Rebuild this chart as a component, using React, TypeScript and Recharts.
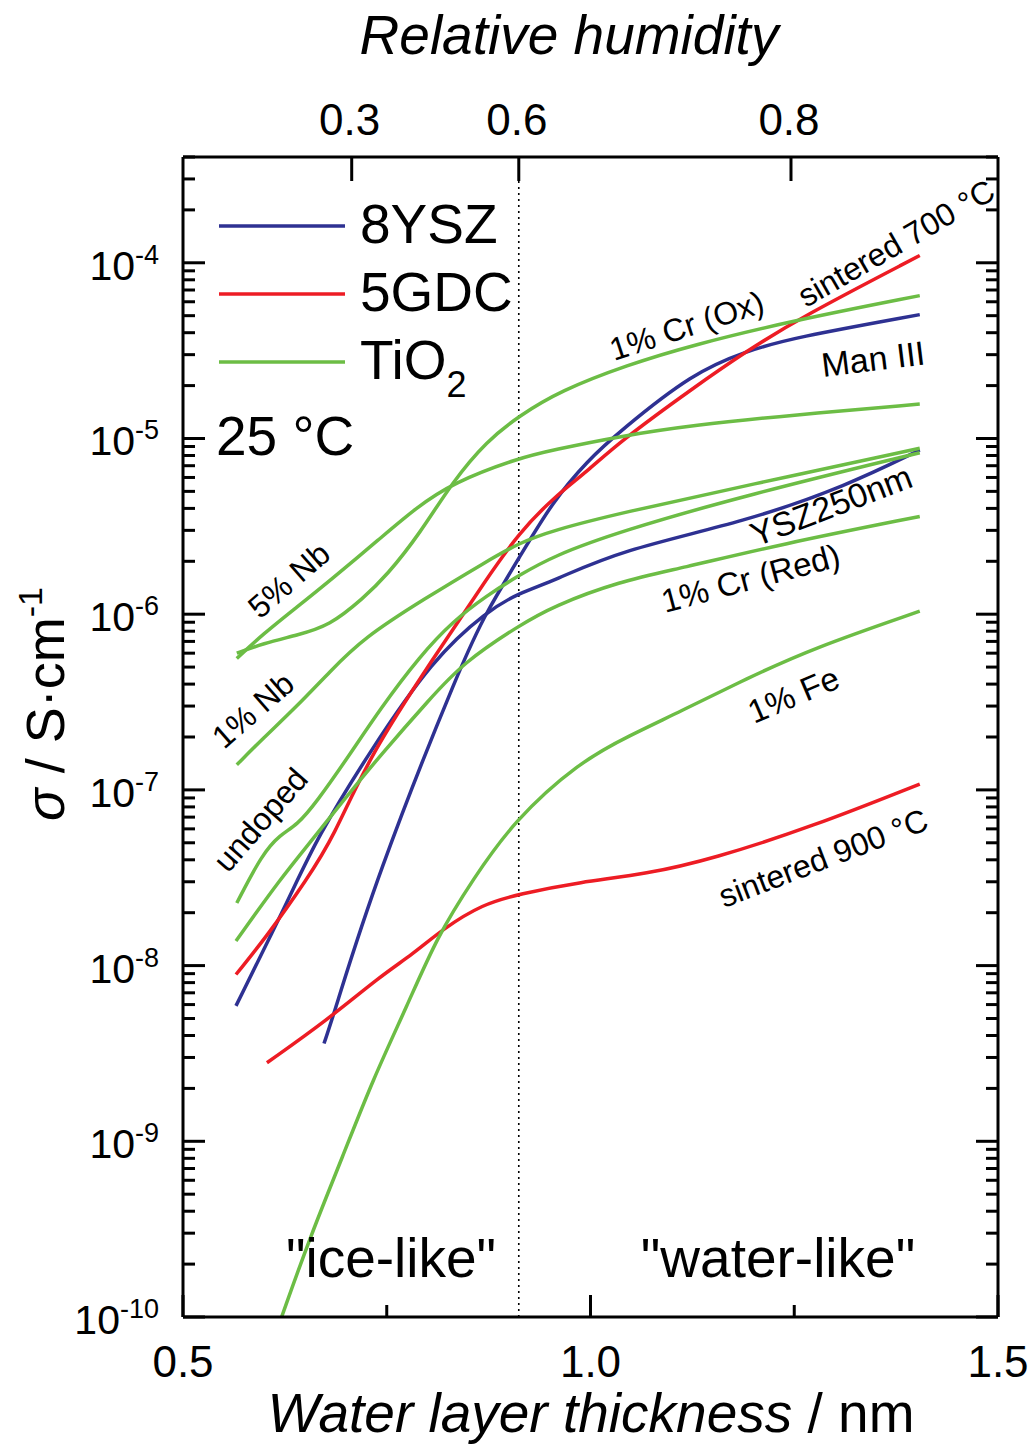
import React from "react";
import { LineChart, Line, XAxis, YAxis, ReferenceLine, Legend } from "recharts";

const BLUE = "#2e3192";
const RED = "#ed1c24";
const GREEN = "#6cbd45";
const FONT = "'Liberation Sans', Arial, sans-serif";

// water layer thickness (nm) vs conductivity (S/cm)
const ysz250: [number, number][] = [
  [0.565, 5.9e-9], [0.631, 2.45e-8], [0.664, 5.3e-8], [0.729, 1.65e-7], [0.807, 5.6e-7],
  [0.873, 1.04e-6], [0.912, 1.32e-6], [0.954, 1.54e-6], [1.036, 2.31e-6], [1.192, 3.38e-6],
  [1.315, 5.4e-6], [1.404, 8.6e-6],
];
const manIII: [number, number][] = [
  [0.673, 3.6e-9], [0.684, 5.1e-9], [0.736, 3.1e-8], [0.844, 5.6e-7], [0.873, 1.04e-6],
  [0.912, 2.08e-6], [0.954, 4.4e-6], [0.996, 7.45e-6], [1.036, 1.1e-5], [1.126, 2.37e-5],
  [1.192, 3.15e-5], [1.248, 3.74e-5], [1.404, 5.07e-5],
];
const sint700: [number, number][] = [
  [0.565, 8.9e-9], [0.603, 1.47e-8], [0.652, 3.1e-8], [0.684, 5.3e-8], [0.729, 1.57e-7],
  [0.807, 5.6e-7], [0.873, 1.6e-6], [0.912, 2.89e-6], [0.954, 4.58e-6], [0.996, 6.5e-6],
  [1.036, 9.6e-6], [1.126, 1.94e-5], [1.192, 3.15e-5], [1.257, 4.86e-5], [1.404, 1.1e-4],
];
const sint900: [number, number][] = [
  [0.603, 2.8e-9], [0.677, 4.9e-9], [0.742, 8.7e-9], [0.782, 1.16e-8], [0.819, 1.62e-8],
  [0.868, 2.24e-8], [0.912, 2.55e-8], [0.987, 2.99e-8], [1.069, 3.32e-8], [1.15, 4.05e-8],
  [1.273, 6.2e-8], [1.404, 1.08e-7],
];
const crOx: [number, number][] = [
  [0.566, 6.0e-7], [0.598, 6.8e-7], [0.64, 7.6e-7], [0.68, 8.6e-7], [0.721, 1.23e-6],
  [0.75, 1.66e-6], [0.791, 2.89e-6], [0.831, 5.7e-6], [0.873, 9.7e-6], [0.912, 1.34e-5],
  [0.963, 1.87e-5], [1.045, 2.62e-5], [1.126, 3.41e-5], [1.248, 4.68e-5], [1.404, 6.5e-5],
];
const nb5: [number, number][] = [
  [0.566, 5.6e-7], [0.598, 7.7e-7], [0.64, 1.1e-6], [0.68, 1.55e-6], [0.742, 2.7e-6],
  [0.785, 4.0e-6], [0.831, 5.6e-6], [0.912, 7.75e-6], [0.954, 8.6e-6], [1.036, 1.03e-5],
  [1.126, 1.19e-5], [1.248, 1.36e-5], [1.404, 1.57e-5],
];
const nb1: [number, number][] = [
  [0.566, 1.39e-7], [0.598, 1.96e-7], [0.64, 3.0e-7], [0.68, 4.7e-7], [0.721, 7.3e-7],
  [0.797, 1.23e-6], [0.873, 2.0e-6], [0.912, 2.54e-6], [0.954, 3.0e-6], [1.036, 3.76e-6],
  [1.192, 5.4e-6], [1.404, 8.8e-6],
];
const undoped: [number, number][] = [
  [0.566, 2.27e-8], [0.597, 4.3e-8], [0.619, 5.55e-8], [0.64, 6.3e-8], [0.664, 8.55e-8],
  [0.701, 1.5e-7], [0.742, 2.9e-7], [0.791, 5.8e-7], [0.831, 9.1e-7], [0.873, 1.28e-6],
  [0.912, 1.66e-6], [0.954, 2.14e-6], [1.036, 2.96e-6], [1.192, 4.77e-6], [1.404, 8.3e-6],
];
const crRed: [number, number][] = [
  [0.565, 1.38e-8], [0.619, 3.1e-8], [0.66, 5.3e-8], [0.701, 9.2e-8], [0.742, 1.57e-7],
  [0.803, 3.3e-7], [0.844, 5.3e-7], [0.912, 8.6e-7], [0.954, 1.11e-6], [1.036, 1.54e-6],
  [1.11, 1.82e-6], [1.233, 2.5e-6], [1.404, 3.6e-6],
];
const fe1: [number, number][] = [
  [0.621, 1.0e-10], [0.656, 2.86e-10], [0.696, 8.2e-10], [0.733, 2.25e-9], [0.775, 5.9e-9],
  [0.812, 1.47e-8], [0.856, 3.1e-8], [0.905, 6.6e-8], [0.987, 1.45e-7], [1.048, 2.04e-7],
  [1.11, 2.79e-7], [1.192, 4.31e-7], [1.273, 6.4e-7], [1.404, 1.04e-6],
];

const series = [
  { key: "ysz250", pts: ysz250, color: BLUE },
  { key: "manIII", pts: manIII, color: BLUE },
  { key: "sint700", pts: sint700, color: RED },
  { key: "sint900", pts: sint900, color: RED },
  { key: "crOx", pts: crOx, color: GREEN },
  { key: "nb5", pts: nb5, color: GREEN },
  { key: "nb1", pts: nb1, color: GREEN },
  { key: "undoped", pts: undoped, color: GREEN },
  { key: "crRed", pts: crRed, color: GREEN },
  { key: "fe1", pts: fe1, color: GREEN },
];

const legendNames = ["8YSZ", "5GDC", "TiO"];
const legendColors = [BLUE, RED, GREEN];

// axes
const xTicks = [0.5, 0.75, 1.0, 1.25, 1.5];
const xTickLabels = ["0.5", "", "1.0", "", "1.5"];
const rhLabels = ["0.3", "0.6", "0.8"];
const rhThickness = [0.707, 0.912, 1.246];
const iceWaterBoundary = 0.912;
const yDomain: [number, number] = [1e-10, 4e-4];
const decades = [-10, -9, -8, -7, -6, -5];
const yTicks: number[] = [];
decades.forEach((d) => {
  for (let m = 1; m <= 9; m++) yTicks.push(m * Math.pow(10, d));
});
[1, 2, 3, 4].forEach((m) => yTicks.push(m * 1e-4));

const annotations = [
  { text: "1% Cr (Ox)", x: 614, y: 361, a: -18, s: 32 },
  { text: "sintered 700 °C", x: 806, y: 308, a: -30, s: 32 },
  { text: "Man III", x: 823, y: 377, a: -7, s: 34 },
  { text: "YSZ250nm", x: 756, y: 547, a: -21, s: 34 },
  { text: "1% Cr (Red)", x: 665, y: 613, a: -15, s: 33 },
  { text: "1% Fe", x: 754, y: 724, a: -23, s: 33 },
  { text: "sintered 900 °C", x: 724, y: 908, a: -21, s: 32 },
  { text: "5% Nb", x: 260, y: 620, a: -41, s: 32 },
  { text: "1% Nb", x: 224, y: 750, a: -41, s: 32 },
  { text: "undoped", x: 228, y: 874, a: -49, s: 32 },
];

const isMajor = (v: number) => {
  const e = Math.log10(v);
  return Math.abs(e - Math.round(e)) < 1e-6;
};

function LeftTick(props: any) {
  const { x, y, payload } = props;
  const v = payload.value;
  const major = isMajor(v);
  return (
    <g>
      <line x1={x} x2={x + (major ? 22 : 12)} y1={y} y2={y} stroke="#000" strokeWidth={3} />
      {major && (
        <text x={x - 24} y={y + 17} textAnchor="end" fontSize={41} fontFamily={FONT} fill="#000">
          10<tspan dy={-16} fontSize={27}>{Math.round(Math.log10(v))}</tspan>
        </text>
      )}
    </g>
  );
}

function RightTick(props: any) {
  const { x, y, payload } = props;
  const major = isMajor(payload.value);
  return <line x1={x} x2={x - (major ? 22 : 12)} y1={y} y2={y} stroke="#000" strokeWidth={3} />;
}

function BottomTick(props: any) {
  const { x, y, payload } = props;
  const label = xTickLabels[xTicks.indexOf(payload.value)];
  return (
    <g>
      <line x1={x} x2={x} y1={y} y2={y - (label ? 22 : 12)} stroke="#000" strokeWidth={3} />
      {label && (
        <text x={x} y={y + 60} textAnchor="middle" fontSize={44} fontFamily={FONT} fill="#000">
          {label}
        </text>
      )}
    </g>
  );
}

function TopTick(props: any) {
  const { x, y, payload } = props;
  const label = rhLabels[rhThickness.indexOf(payload.value)];
  return (
    <g>
      <line x1={x} x2={x} y1={y} y2={y + 24} stroke="#000" strokeWidth={3} />
      <text x={x - 2} y={y - 22} textAnchor="middle" fontSize={44} fontFamily={FONT} fill="#000">
        {label}
      </text>
    </g>
  );
}

function LegendBox() {
  return (
    <svg width={320} height={290} style={{ display: "block" }}>
      {legendNames.map((n, i) => (
        <g key={n}>
          <line x1={9} x2={135} y1={36 + i * 68} y2={36 + i * 68} stroke={legendColors[i]} strokeWidth={3.5} />
          <text x={150} y={53 + i * 68} fontSize={55} fontFamily={FONT} fill="#000">
            {n}
            {i === 2 && (
              <tspan dy={18} fontSize={36}>2</tspan>
            )}
          </text>
        </g>
      ))}
      <text x={6} y={265} fontSize={55} fontFamily={FONT} fill="#000">25 °C</text>
    </svg>
  );
}

export default function App() {
  return (
    <div style={{ position: "absolute", left: 0, top: 0, width: 1034, height: 1447, background: "#fff" }}>
      <LineChart width={1034} height={1447} margin={{ top: 117, right: 16, bottom: 90, left: 123 }}>
        <XAxis
          xAxisId="bottom"
          dataKey="x"
          type="number"
          domain={[0.5, 1.5]}
          ticks={xTicks}
          interval={0}
          height={40}
          tickSize={0}
          tickMargin={0}
          tickLine={false}
          tick={BottomTick}
          axisLine={{ stroke: "#000", strokeWidth: 3 }}
          allowDataOverflow
        />
        <XAxis
          xAxisId="top"
          orientation="top"
          dataKey="x"
          type="number"
          domain={[0.5, 1.5]}
          ticks={rhThickness}
          interval={0}
          height={40}
          tickSize={0}
          tickMargin={0}
          tickLine={false}
          tick={TopTick}
          axisLine={{ stroke: "#000", strokeWidth: 3 }}
          allowDataOverflow
        />
        <YAxis
          yAxisId="left"
          type="number"
          scale="log"
          domain={yDomain}
          ticks={yTicks}
          interval={0}
          width={60}
          tickSize={0}
          tickMargin={0}
          tickLine={false}
          tick={LeftTick}
          axisLine={{ stroke: "#000", strokeWidth: 3 }}
          allowDataOverflow
        />
        <YAxis
          yAxisId="right"
          orientation="right"
          type="number"
          scale="log"
          domain={yDomain}
          ticks={yTicks}
          interval={0}
          width={20}
          tickSize={0}
          tickMargin={0}
          tickLine={false}
          tick={RightTick}
          axisLine={{ stroke: "#000", strokeWidth: 3 }}
          allowDataOverflow
        />
        <ReferenceLine
          x={iceWaterBoundary}
          xAxisId="bottom"
          yAxisId="left"
          stroke="#000"
          strokeWidth={1.6}
          strokeDasharray="2 4"
        />
        {series.map((s) => (
          <Line
            key={s.key}
            data={s.pts.map(([x, y]) => ({ x, y }))}
            dataKey="y"
            xAxisId="bottom"
            yAxisId="left"
            type="basis"
            stroke={s.color}
            strokeWidth={3.5}
            dot={false}
            isAnimationActive={false}
          />
        ))}
        <Legend
          layout="vertical"
          align="center"
          verticalAlign="middle"
          wrapperStyle={{ left: 210, top: 190, width: 320 }}
          content={() => <LegendBox />}
        />
      </LineChart>

      <svg
        width={1034}
        height={1447}
        style={{ position: "absolute", left: 0, top: 0, pointerEvents: "none" }}
        fontFamily={FONT}
      >
        <text x={569} y={54} textAnchor="middle" fontSize={55} fontStyle="italic">
          Relative humidity
        </text>
        <text x={591} y={1432} textAnchor="middle" fontSize={55}>
          <tspan fontStyle="italic">Water layer thickness</tspan> / nm
        </text>
        <text x={64} y={704} textAnchor="middle" fontSize={54} transform="rotate(-90 64 704)">
          <tspan fontStyle="italic">σ</tspan> / S·cm<tspan dy={-22} fontSize={34}>-1</tspan>
        </text>
        <text x={391} y={1277} textAnchor="middle" fontSize={55}>"ice-like"</text>
        <text x={778} y={1277} textAnchor="middle" fontSize={55}>"water-like"</text>
        {annotations.map((t) => (
          <text key={t.text} x={t.x} y={t.y} fontSize={t.s} transform={`rotate(${t.a} ${t.x} ${t.y})`}>
            {t.text}
          </text>
        ))}
      </svg>
    </div>
  );
}
